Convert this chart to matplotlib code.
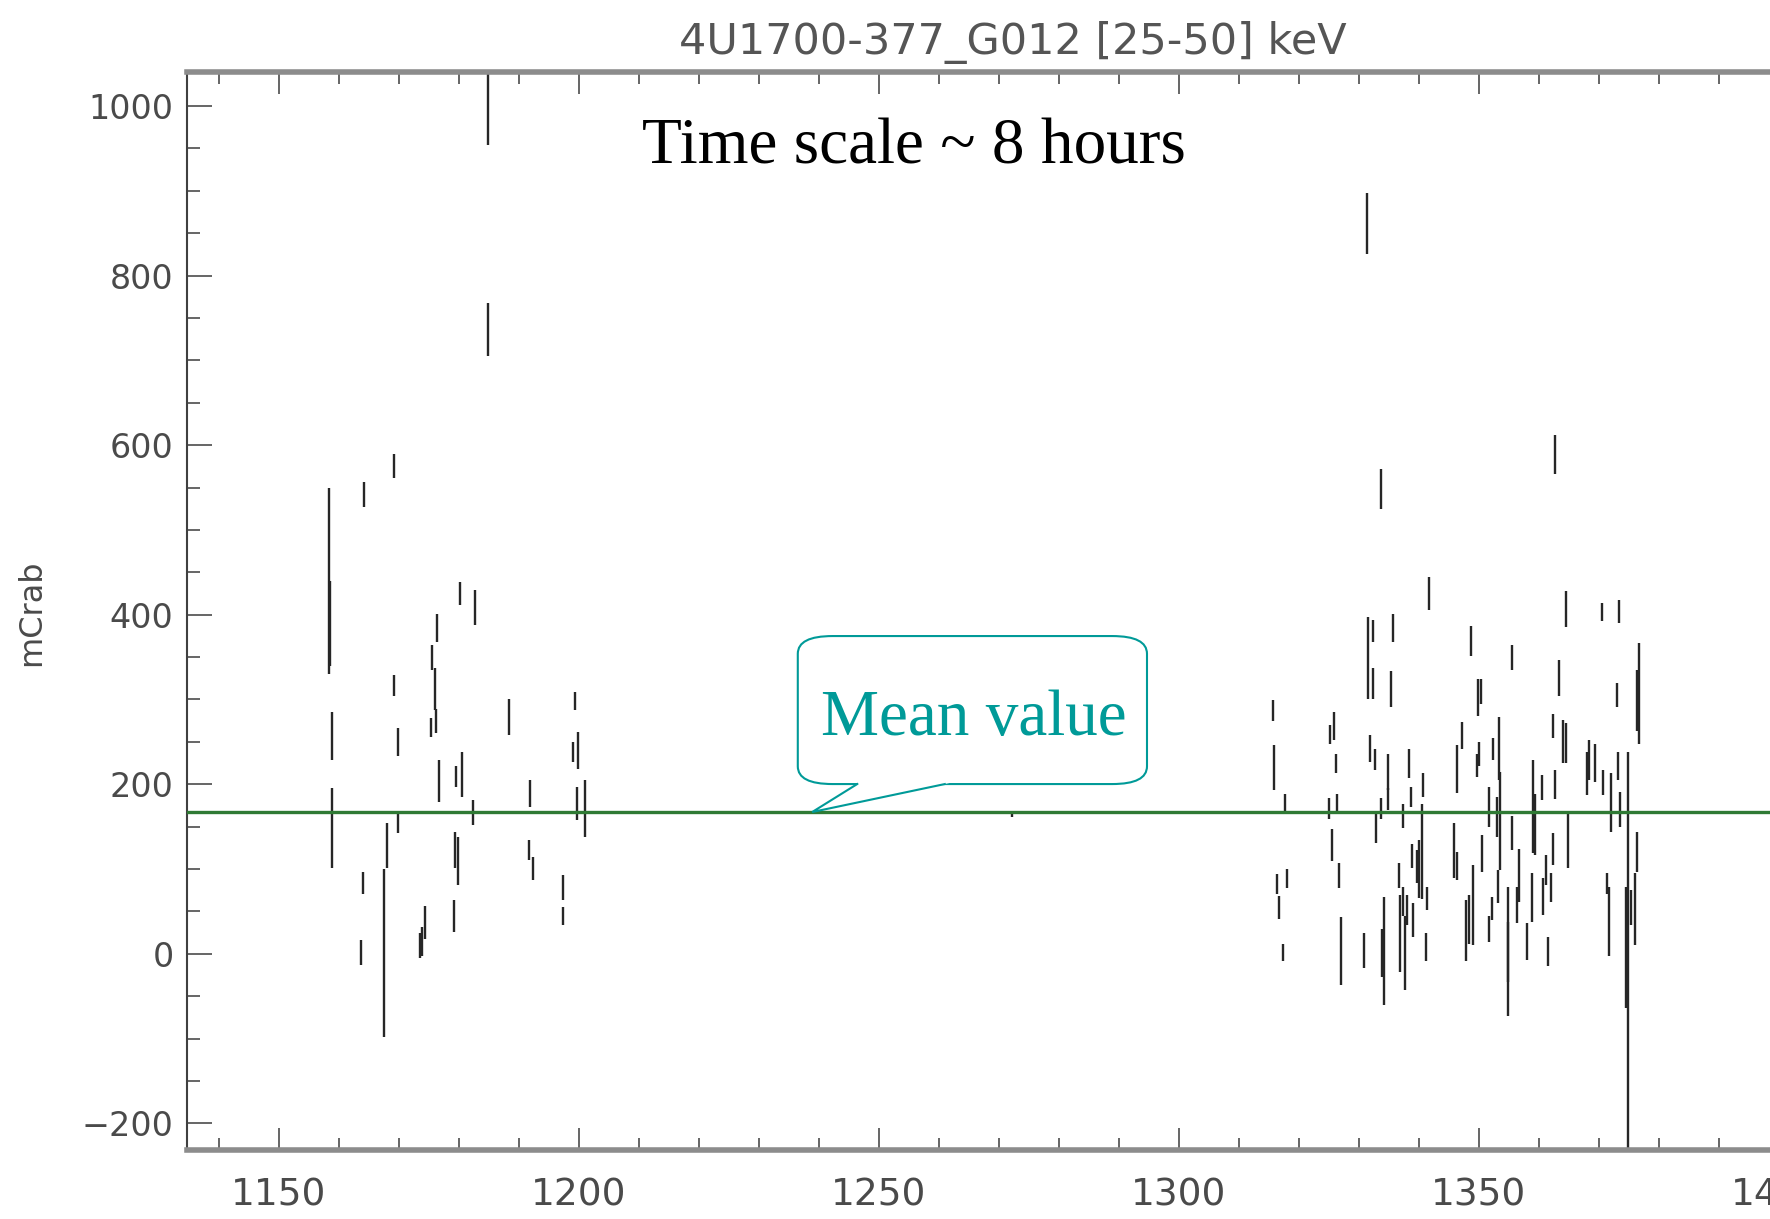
import matplotlib
matplotlib.use("Agg")
import matplotlib.pyplot as plt
from matplotlib.ticker import MultipleLocator
from matplotlib.patches import FancyBboxPatch, Polygon

# light curve, one vertical error bar per bin: time (days), lower, upper (mCrab)
t = [1158.3, 1158.5, 1164.25, 1169.25, 1180.2, 1182.7, 1176.4, 1175.5, 1176.0, 1176.2,
     1175.3, 1169.25, 1188.4, 1199.4, 1158.9, 1169.9, 1199.9, 1199.1, 1158.9, 1176.75,
     1180.5, 1179.6, 1182.4, 1191.9, 1199.65, 1201.1, 1169.9, 1168.1, 1167.5, 1164.0,
     1163.75, 1179.4, 1179.9, 1174.4, 1173.8, 1173.5, 1179.2, 1191.75, 1192.4, 1197.4,
     1197.4, 1184.8, 1184.8, 1272.2,
     1331.4, 1333.7, 1362.7, 1341.7, 1331.6, 1332.4, 1332.4, 1335.75, 1335.3, 1315.65,
     1325.9, 1325.2, 1315.9, 1326.2, 1331.9, 1332.7, 1334.9, 1338.4, 1340.75, 1346.4,
     1317.7, 1325.0, 1326.4, 1333.65, 1332.9, 1334.9, 1338.65, 1337.4, 1340.5, 1325.5,
     1326.75, 1318.1, 1316.3, 1316.7, 1317.3, 1327.1, 1330.9, 1334.25, 1333.8, 1336.75,
     1336.9, 1337.3, 1337.7, 1338.1, 1339.1, 1338.8, 1339.75, 1340.1, 1341.4, 1341.15,
     1345.9, 1346.3, 1364.5, 1370.6, 1373.4, 1348.65, 1355.5, 1363.4, 1376.75, 1376.3,
     1373.0, 1349.9, 1350.4, 1347.25, 1349.65, 1350.1, 1352.4, 1353.4, 1353.5, 1362.4,
     1364.1, 1364.5, 1359.1, 1360.6, 1362.7, 1368.0, 1368.4, 1369.4, 1372.1, 1373.25,
     1373.5, 1374.9, 1351.75, 1353.0, 1350.5, 1355.6, 1356.75, 1359.4, 1362.4, 1364.9,
     1361.2, 1362.0, 1360.75, 1358.8, 1358.1, 1361.5, 1356.3, 1354.9, 1354.8, 1353.25,
     1352.15, 1351.75, 1349.1, 1348.4, 1347.9, 1371.3, 1371.75, 1374.5, 1375.3, 1376.0,
     1376.3, 1370.65]
lo = [330, 340, 527, 561, 412, 388, 368, 335, 287, 260,
      256, 304, 258, 287, 229, 233, 218, 226, 101, 179,
      185, 197, 152, 173, 158, 138, 142, 101, -98, 70,
      -13, 101, 81, 18, -3, -5, 26, 111, 87, 64,
      34, 954, 705, 161,
      825, 525, 566, 405, 301, 368, 301, 368, 291, 274,
      252, 247, 193, 213, 226, 217, 193, 207, 185, 190,
      166, 159, 168, 159, 131, 170, 173, 148, 65, 109,
      77, 77, 70, 41, -9, -37, -17, -60, -27, 77,
      -21, 44, -43, 34, 20, 101, 83, 66, 52, -9,
      89, 87, 385, 392, 390, 351, 335, 304, 247, 263,
      291, 280, 295, 242, 209, 221, 229, 205, 99, 255,
      225, 225, 119, 181, 182, 187, 205, 203, 144, 205,
      150, -300, 150, 138, 97, 122, 61, 116, 105, 101,
      81, 61, 46, 38, -7, -15, 36, -74, -33, 60,
      40, 14, 10, 12, -9, 71, -3, -64, 34, 10,
      97, 187]
hi = [550, 440, 557, 590, 438, 429, 401, 364, 337, 289,
      278, 329, 300, 309, 285, 266, 262, 250, 195, 228,
      238, 222, 181, 205, 197, 205, 167, 154, 100, 96,
      16, 144, 138, 56, 32, 25, 63, 134, 114, 93,
      55, 1060, 768, 168,
      898, 572, 612, 445, 397, 394, 337, 401, 334, 299,
      285, 270, 246, 236, 258, 242, 236, 242, 213, 246,
      188, 184, 188, 184, 166, 195, 197, 177, 177, 147,
      107, 100, 94, 68, 12, 43, 25, 67, 29, 107,
      69, 79, 44, 69, 60, 130, 122, 134, 79, 24,
      154, 120, 428, 414, 417, 387, 364, 347, 367, 335,
      320, 324, 324, 273, 236, 250, 255, 279, 215, 283,
      276, 272, 228, 211, 217, 238, 252, 247, 213, 238,
      191, 238, 197, 185, 140, 162, 124, 189, 142, 166,
      117, 95, 89, 95, 36, 20, 79, 79, 38, 99,
      67, 44, 105, 69, 63, 95, 79, 79, 75, 95,
      144, 217]

mean_value = 167
title = "4U1700-377_G012 [25-50] keV"

teal = "#009a98"

fig = plt.figure(figsize=(17.7, 12.19), dpi=100)
# the axes runs past the right border of the picture, as in the original slide
ax = fig.add_axes([0.10588, 0.0566, 0.93299, 0.8842])
ax.set_xlim(1134.77, 1410)
ax.set_ylim(-231.5, 1040)

ax.vlines(t, lo, hi, colors="#262626", linewidth=1.7, zorder=2)
ax.axhline(mean_value, color="#2f7a34", linewidth=2.4, zorder=3)

# tick setup
ax.xaxis.set_major_locator(MultipleLocator(50))
ax.xaxis.set_minor_locator(MultipleLocator(10))
ax.yaxis.set_major_locator(MultipleLocator(200))
ax.yaxis.set_minor_locator(MultipleLocator(50))
ax.tick_params(axis="x", which="both", direction="in", top=True, bottom=True,
               colors="#3c3c3c", labelcolor="#4a4a4a", width=1.1)
ax.tick_params(axis="x", which="major", length=16, pad=20, labelsize=27)
ax.tick_params(axis="x", which="minor", length=8.5)
ax.tick_params(axis="y", which="both", direction="in", left=True, right=False,
               colors="#3c3c3c", labelcolor="#4a4a4a", width=1.1)
ax.tick_params(axis="y", which="major", length=18, pad=10, labelsize=24)
ax.tick_params(axis="y", which="minor", length=9)

for side in ["top", "bottom"]:
    ax.spines[side].set_linewidth(4)
    ax.spines[side].set_color("#8c8c8c")
ax.spines["left"].set_linewidth(1.5)
ax.spines["left"].set_color("#404040")
ax.spines["right"].set_visible(False)

ax.set_title(title, fontsize=31, color="#555555", pad=13)
fig.text(32 / 1770, 1 - 613 / 1219, "mCrab", rotation=90, ha="center", va="center",
         fontsize=23, color="#4a4a4a")

ax.text(1255.8, 931.7, "Time scale ~ 8 hours", family="Liberation Serif",
        fontsize=47, color="black", ha="center", va="baseline", zorder=5)

# speech bubble pointing at the mean line
box = FancyBboxPatch((1236.5, 200.2), 58.2, 174.6,
                     boxstyle="round,pad=0,rounding_size=5.8", mutation_aspect=3.6,
                     facecolor="white", edgecolor=teal, linewidth=1.5, zorder=4)
ax.add_patch(box)
ax.add_patch(Polygon([(1246.9, 202.5), (1238.9, 167.2), (1262.5, 202.5)],
                     closed=True, facecolor="white", edgecolor="none", zorder=5))
ax.plot([1246.4, 1238.9, 1261.0], [200.2, 167.2, 200.2], color=teal,
        linewidth=1.5, zorder=6, solid_joinstyle="miter")
ax.text(1265.8, 258, "Mean value", family="Liberation Serif", fontsize=47,
        color=teal, ha="center", va="baseline", zorder=7)

fig.savefig("out.png", dpi=100)
